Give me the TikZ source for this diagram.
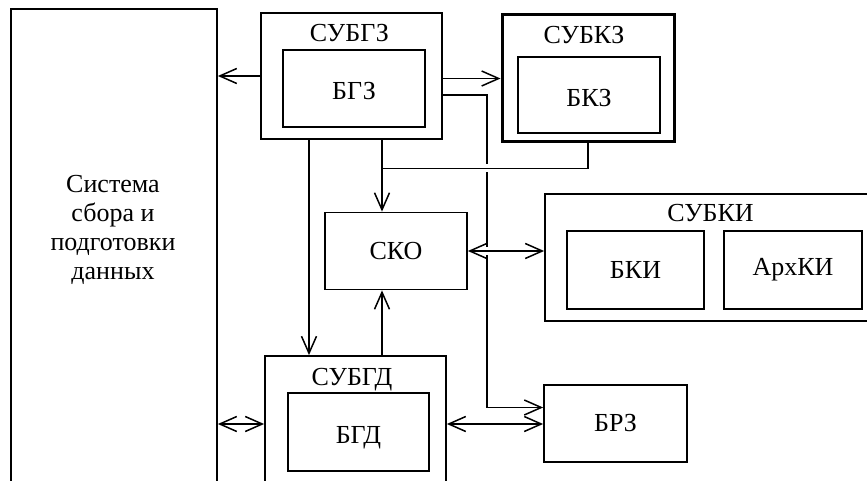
\documentclass[tikz,border=0pt]{standalone}
\usepackage{fontspec}
\setmainfont{Liberation Serif}
\usetikzlibrary{arrows.meta,positioning}

\begin{document}
\begin{tikzpicture}[
  x=1pt, y=-1pt,
  every node/.style={font=\fontsize{26}{29}\selectfont, inner sep=0pt},
  blk/.style={rectangle, draw=black, line width=1.8pt, fill=white},
  heavy/.style={blk, line width=3pt},
  low/.style={text height=23pt, text depth=0pt},
  title/.style={anchor=base},
  ln/.style={line width=1.5pt},
  arr/.style={ln, -{Straight Barb[length=17pt, width=15pt]}},
  dbl/.style={ln, {Straight Barb[length=17pt, width=15pt]}-{Straight Barb[length=17pt, width=15pt]}},
  gap/.style={draw=white, line width=8pt}
]
\clip (0,0) rectangle (867,481);

% data collection system (runs off the page)
\node[blk, minimum width=206pt, minimum height=500pt] (ssd) at (114,259) {};
\node[align=center] (ssd text) at (113,230) {Система\\сбора и\\подготовки\\данных};

% upper subsystems
\node[blk, minimum width=181pt, minimum height=126pt] (subgz) at (351.5,76) {};
\node[title] (subgz title) at (349.5,41.7) {СУБГЗ};
\node[blk, low, minimum width=142pt, minimum height=77pt] (bgz) at (354,88.5) {БГЗ};

\node[heavy, minimum width=172pt, minimum height=127pt] (subkz) at (588,78.5) {};
\node[title] (subkz title) at (584,43.3) {СУБКЗ};
\node[heavy, low, line width=2.5pt, minimum width=142pt, minimum height=76pt] (bkz) at (589,95) {БКЗ};

% middle row
\node[blk, minimum width=142pt, minimum height=77pt] (sko) at (396,251) {СКО};

\node[blk, minimum width=325pt, minimum height=127pt] (subki) at (707.5,257.5) {};
\node[title] (subki title) at (710.5,222) {СУБКИ};
\node[blk, minimum width=137pt, minimum height=78pt] (bki) at (635.5,270) {БКИ};
\node[blk, minimum width=138pt, minimum height=78pt] (arhki) at (793,270) {АрхКИ};

% lower row
\node[blk, minimum width=181pt, minimum height=144pt] (subgd) at (355.5,428) {};
\node[title] (subgd title) at (352,385) {СУБГД};
\node[blk, low, minimum width=141pt, minimum height=78pt] (bgd) at (358.5,432) {БГД};

\node[blk, minimum width=143pt, minimum height=77pt] (brz) at (615.5,423.5) {БРЗ};

% helper points
\coordinate (tap) at (487,95);
\coordinate (skoin) at ([xshift=-14pt]sko.north);
\coordinate (kz) at ([yshift=-25pt]subkz.south);
\coordinate (gd) at ([yshift=8pt]bgd.west);

% long line to БРЗ, broken where others cross it
\draw[arr] (tap -| subgz.east) -- (tap) |- ([yshift=16pt]brz.west);
\draw[gap] (kz) -- (kz -| skoin);
\draw[gap] (sko.east) -- (sko.east -| subki.west);

\draw[ln]  (subkz.south) -- (kz) -- (kz -| skoin);
\draw[arr] (subgz.west) -- (subgz.west -| ssd.east);
\draw[arr] (subgz.east |- subkz.west) -- (subkz.west);
\draw[arr] ([xshift=-42.5pt]subgz.south) coordinate (down) -- (down |- subgd.north);
\draw[arr] (skoin |- subgz.south) -- (skoin);
\draw[arr] (skoin |- subgd.north) -- (skoin |- sko.south);
\draw[dbl] (sko.east) -- (sko.east -| subki.west);
\draw[dbl] (gd -| ssd.east) -- (gd -| subgd.west);
\draw[dbl] (gd -| subgd.east) -- (gd -| brz.west);
\end{tikzpicture}
\end{document}
